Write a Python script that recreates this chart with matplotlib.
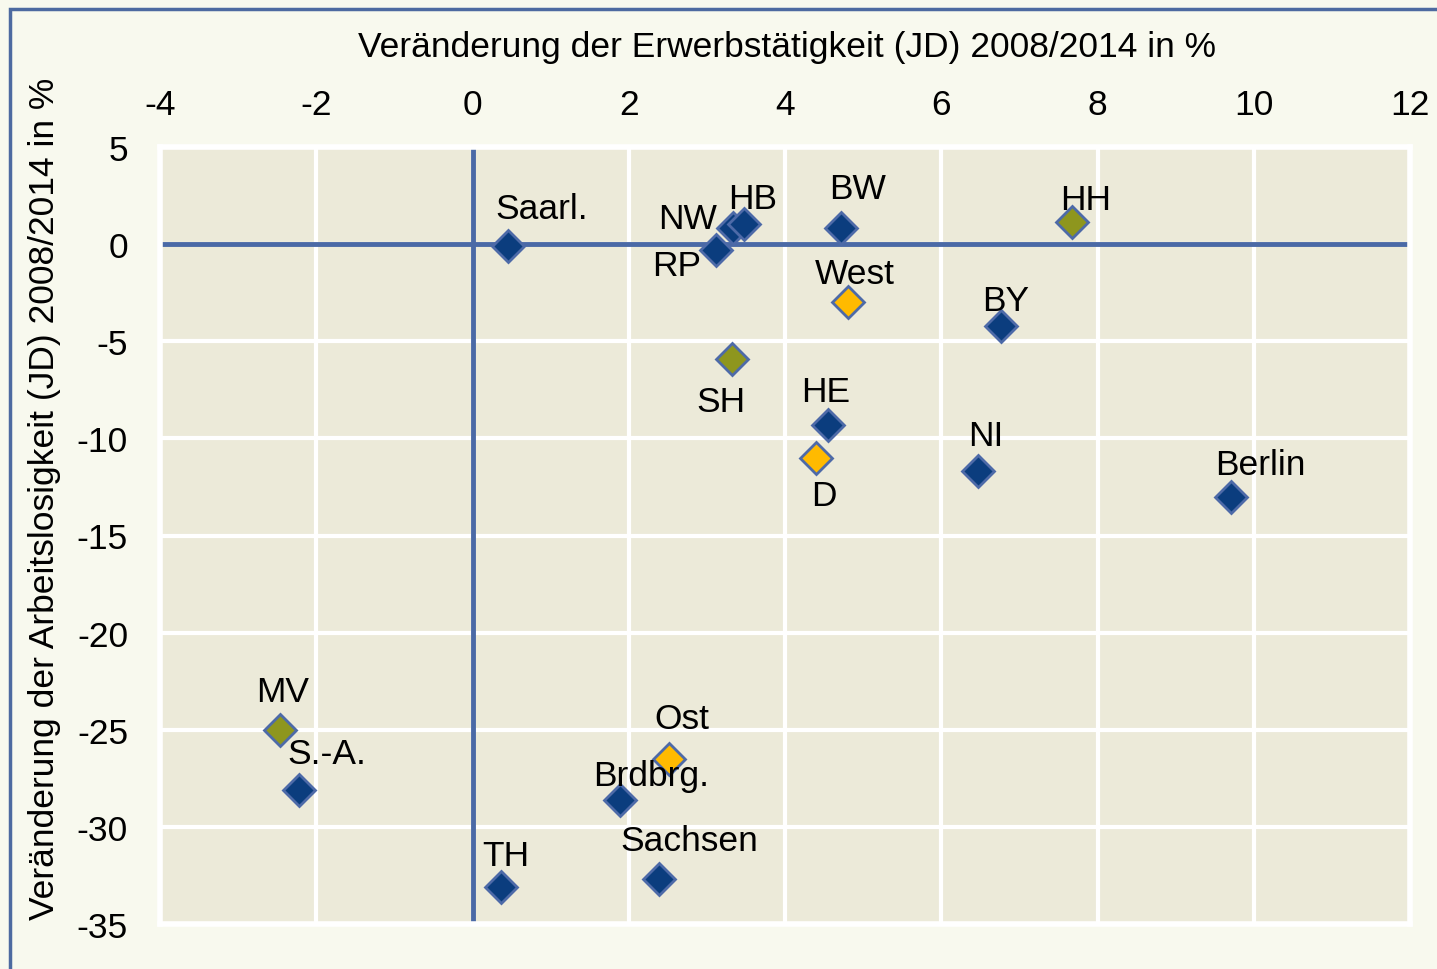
import matplotlib.pyplot as plt
from matplotlib.patches import Rectangle

plt.rcParams['font.family'] = ['Liberation Sans', 'DejaVu Sans']
plt.rcParams['axes.unicode_minus'] = False

# data
labels = ['Saarl.', 'RP', 'NW', 'HB', 'BW', 'HH', 'West', 'BY', 'SH', 'HE',
          'D', 'NI', 'Berlin', 'MV', 'S.-A.', 'Ost', 'Brdbrg.', 'Sachsen', 'TH']
erwerb = [0.46, 3.12, 3.34, 3.48, 4.72, 7.67, 4.81, 6.76, 3.32, 4.55,
          4.40, 6.47, 9.71, -2.47, -2.22, 2.52, 1.89, 2.39, 0.37]
arbeitslos = [-0.1, -0.3, 0.85, 1.05, 0.85, 1.15, -3.0, -4.2, -5.9, -9.3,
              -11.0, -11.7, -13.0, -25.0, -28.1, -26.5, -28.6, -32.7, -33.1]
group = ['w', 'w', 'w', 'w', 'w', 'g', 'o', 'w', 'g', 'w',
         'o', 'w', 'w', 'g', 'w', 'o', 'w', 'w', 'w']

colors = {'w': '#0B3D7E', 'g': '#8E961E', 'o': '#FFBA00'}

# label offsets in pixels (dx, dy) relative to the marker
offsets = {'Saarl.': (33, 38), 'RP': (-40, -16), 'NW': (-46, 9), 'HB': (8, 25),
           'BW': (16, 39), 'HH': (14, 22), 'West': (7, 29), 'BY': (5, 25),
           'SH': (-11, -43), 'HE': (-2, 33), 'D': (8, -38), 'NI': (8, 36),
           'Berlin': (29, 32), 'MV': (3, 38), 'S.-A.': (28, 36), 'Ost': (12, 40),
           'Brdbrg.': (31, 24), 'Sachsen': (30, 39), 'TH': (4, 32)}

fs = 25.5

fig = plt.figure(figsize=(14.37, 9.70), dpi=100, facecolor='#F8F9EE')
ax = fig.add_axes([160 / 1437, 1 - 925 / 970, 1250 / 1437, 777 / 970])
ax.set_facecolor('#ECEAD9')

# outer frame
fig.patches.append(Rectangle((10 / 1437, -0.05), 1.1, 1 - 9.5 / 970 + 0.05,
                             transform=fig.transFigure, fill=False,
                             edgecolor='#4D6AA0', linewidth=2.5))

ax.set_xlim(-4, 12)
ax.set_ylim(-35, 5)
ax.set_xticks(range(-4, 13, 2))
ax.set_yticks(range(-35, 6, 5))
ax.xaxis.tick_top()
ax.xaxis.set_label_position('top')
ax.tick_params(length=0, labelsize=fs, pad=19)
ax.tick_params(axis='y', pad=23)
ax.grid(True, color='white', linewidth=3)
ax.set_axisbelow(True)
for s in ax.spines.values():
    s.set_color('white')
    s.set_linewidth(4)

ax.axhline(0, color='#4A69A6', linewidth=3.5, zorder=2)
ax.axvline(0, color='#4A69A6', linewidth=3.5, zorder=2)

for lab, x, y, g in zip(labels, erwerb, arbeitslos, group):
    ax.plot(x, y, marker='D', markersize=16.5, color=colors[g],
            markeredgecolor='#4D6AA8', markeredgewidth=2, zorder=3)
    dx, dy = offsets[lab]
    ax.annotate(lab, (x, y), xytext=(dx, dy), textcoords='offset pixels',
                ha='center', va='center', fontsize=fs, zorder=4)

fig.text(787 / 1437, 1 - 47 / 970, 'Veränderung der Erwerbstätigkeit (JD) 2008/2014 in %',
         ha='center', va='center', fontsize=fs)
fig.text(45 / 1437, 1 - 499 / 970, 'Veränderung der Arbeitslosigkeit (JD) 2008/2014 in %',
         ha='center', va='center', rotation=90, fontsize=fs)

fig.savefig('out.png', dpi=100, facecolor=fig.get_facecolor())
